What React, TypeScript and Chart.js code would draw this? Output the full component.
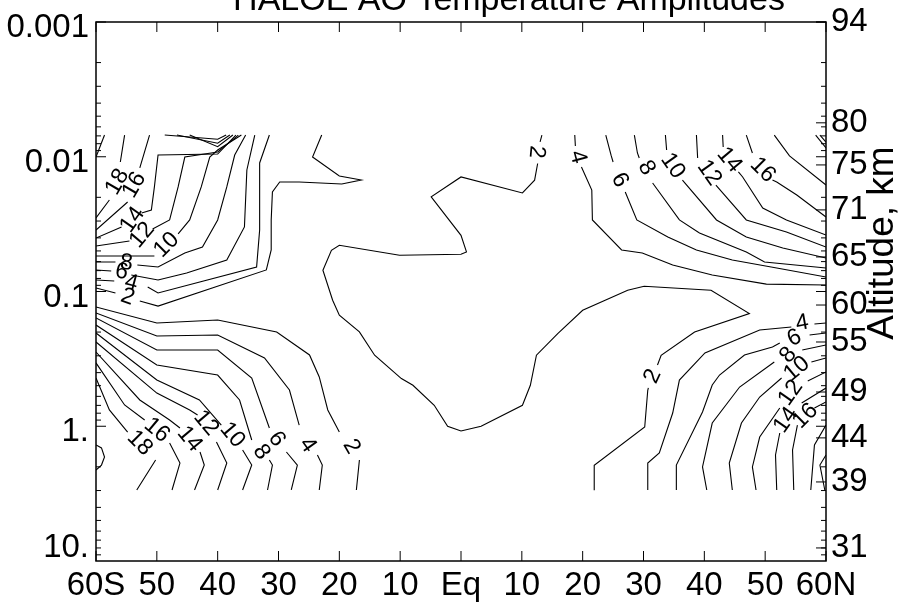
import React, { useEffect, useRef } from 'react';
import { Chart, registerables } from 'chart.js';

Chart.register(...registerables);

// ---------- axes ----------
const latTicks = [-60, -50, -40, -30, -20, -10, 0, 10, 20, 30, 40, 50, 60];
const latLabels = ['60S', '50', '40', '30', '20', '10', 'Eq', '10', '20', '30', '40', '50', '60N'];
const pressureTicks = [0.001, 0.01, 0.1, 1, 10];
const pressureLabels = ['0.001', '0.01', '0.1', '1.', '10.'];
const altitudePressures = [0.001, 0.0056, 0.0115, 0.0248, 0.0554, 0.126, 0.237, 0.557, 1.22, 2.59, 8.0];
const altitudeLabels = ['94', '80', '75', '71', '65', '60', '55', '49', '44', '39', '31'];

type Pt = [number, number] | null; // [latitude, log10(pressure hPa)]

// ---------- contour lines (lat, log10 p) ----------
const amp2Center: Pt[] = [[13.3,-2.161],[13.0,-2.11],null,[12.6,-1.95],[12.1,-1.826],[10.1,-1.731],[0,-1.850],[-4.9,-1.702],[0,-1.417],[0.9,-1.294],[0,-1.276],[-10.1,-1.269],[-20,-1.343],[-21.3,-1.306],[-22.7,-1.158],[-21.1,-0.935],[-20,-0.824],[-16.7,-0.700],[-14.2,-0.527],[-9.8,-0.354],[-7.9,-0.304],[-4.4,-0.156],[-2.2,0],[0,0.035],[3.3,0],[10.1,-0.156],[11.4,-0.304],[12.4,-0.527],[15.9,-0.688],[20,-0.861],[27.4,-1.009],[30.1,-1.039],[41.1,-1.009],[47.4,-0.836],[38.4,-0.700],[32.9,-0.527],[32.3,-0.455],null,[30.8,-0.284],[30.7,-0.267],[30.2,0.005],[21.9,0.289],[21.9,0.475]];

const amp2UpperLeft: Pt[] = [[-60,-1.026],[-56.8,-0.989],null,[-52.8,-0.929],[-49.8,-0.892],[-32.0,-1.160],[-31.2,-1.308],[-31.2,-1.531],[-31.0,-1.739],[-29.8,-1.813],[-26.6,-1.813],[-19.6,-1.798],[-16.4,-1.827],[-20.0,-1.857],[-24.4,-1.998],[-22.9,-2.161]];
const amp4UpperLeft: Pt[] = [[-60,-1.085],[-57.0,-1.078],null,[-51.5,-1.033],[-49.8,-0.989],[-33.6,-1.182],[-33.1,-1.456],[-33.1,-1.954],[-31.5,-2.161]];
const amp6UpperLeft: Pt[] = [[-60,-1.160],[-57.5,-1.152],null,[-54.2,-1.123],[-49.8,-1.085],[-45.1,-1.137],[-38.5,-1.234],[-35.6,-1.479],[-35.2,-1.902],[-34.2,-2.102],[-33.9,-2.161]];
const amp8UpperLeft: Pt[] = [[-60,-1.219],[-56.8,-1.219],null,[-53.2,-1.197],[-49.8,-1.182],[-45.4,-1.286],[-42.5,-1.330],[-40,-1.531],[-38.5,-1.776],[-37.2,-2.013],[-35.4,-2.161]];
const amp10UpperLeft: Pt[] = [[-60,-1.264],[-50.4,-1.264],null,[-46.5,-1.427],[-44.6,-1.531],[-42.7,-1.776],[-41.3,-1.998],[-40,-2.05],[-36.1,-2.161]];
const amp12UpperLeft: Pt[] = [[-60,-1.338],[-54.5,-1.375],null,[-50.7,-1.464],[-47.9,-1.531],[-46.5,-1.776],[-45.4,-1.998],[-40,-2.035],[-36.6,-2.161]];
const amp14UpperLeft: Pt[] = [[-60,-1.397],[-55.8,-1.479],null,[-52.5,-1.583],[-50.9,-1.605],[-50.4,-1.776],[-49.8,-2.013],[-40,-2.02],[-37.0,-2.161]];
const amp16UpperLeft: Pt[] = [[-60,-1.456],[-54.8,-1.664],null,[-52.8,-1.917],[-51.2,-2.161]];
const amp18UpperLeft: Pt[] = [[-60,-1.546],[-57.8,-1.679],null,[-56.0,-1.961],[-55.3,-2.161]];
const amp20UpperLeft: Pt[] = [[-60,-1.998],[-58.6,-2.161]];
const ampTopFanA: Pt[] = [[-48.7,-2.161],[-40,-2.13],[-38.6,-2.161]];
const ampTopFanB: Pt[] = [[-46.7,-2.161],[-40,-2.10],[-38.0,-2.161]];
const ampTopFanC: Pt[] = [[-44.6,-2.161],[-40,-2.075],[-37.5,-2.161]];

const amp2LowerLeft: Pt[] = [[-60,-0.885],[-50,-0.766],[-40,-0.789],[-30.3,-0.699],[-24.9,-0.529],[-23.3,-0.366],[-21.9,-0.121],[-20,0.043],null,[-16.7,0.250],[-17.2,0.473]];
const amp4LowerLeft: Pt[] = [[-60,-0.841],[-50,-0.670],[-40,-0.677],[-32.3,-0.507],[-28.2,-0.269],[-26.6,-0.009],null,[-23.6,0.213],[-22.8,0.288],[-23.3,0.473]];
const amp6LowerLeft: Pt[] = [[-60,-0.804],[-50,-0.566],[-40,-0.566],[-34.4,-0.358],[-31.5,0.013],null,[-28.7,0.191],[-26.9,0.288],[-27.9,0.473]];
const amp8LowerLeft: Pt[] = [[-60,-0.751],[-50,-0.455],[-40,-0.380],[-36.4,-0.195],[-34.4,0.102],null,[-31.5,0.250],[-31.0,0.288],[-31.8,0.473]];
const amp10LowerLeft: Pt[] = [[-60,-0.692],[-50,-0.343],[-43.0,-0.195],[-39.4,-0.009],null,[-35.9,0.176],[-34.4,0.288],[-35.9,0.473]];
const amp12LowerLeft: Pt[] = [[-60,-0.625],[-50,-0.246],[-44.6,-0.121],[-43.3,-0.083],null,[-40.2,0.117],[-38.5,0.273],[-40,0.473]];
const amp14LowerLeft: Pt[] = [[-60,-0.551],[-52.8,-0.195],[-47.9,-0.046],[-46.2,0.013],null,[-42.9,0.191],[-42.2,0.288],[-43.8,0.473]];
const amp16LowerLeft: Pt[] = [[-60,-0.470],[-55.3,-0.158],[-52.0,-0.046],null,[-47.9,0.124],[-46.2,0.273],[-47.5,0.473]];
const amp18LowerLeft: Pt[] = [[-60,-0.358],[-57.8,-0.121],[-54.8,0.043],null,[-50.2,0.250],[-53.3,0.473]];
const amp20LowerLeft: Pt[] = [[-60,0.139],[-59.1,0.161],[-58.6,0.228],[-59.1,0.288],[-60,0.325]];

const amp4UpperRight: Pt[] = [[18.7,-2.161],[18.8,-2.080],null,[19.8,-1.924],[21.5,-1.753],[21.6,-1.531],[26.4,-1.308],[29.8,-1.286],[34.8,-1.197],[41.3,-1.123],[50.2,-1.055],[60,-1.048]];
const amp6UpperRight: Pt[] = [[23.8,-2.161],[24.7,-2.006],[25.0,-1.961],null,[27.0,-1.739],[28.9,-1.531],[34.0,-1.405],[38.7,-1.308],[44.6,-1.234],[51.9,-1.174],[60,-1.108]];
const amp8UpperRight: Pt[] = [[28.5,-2.161],[29.0,-2.028],[29.3,-1.991],null,[31.5,-1.805],[35.9,-1.531],[39.2,-1.434],[46.9,-1.293],[49.9,-1.219],[60,-1.174]];
const amp10UpperRight: Pt[] = [[33.6,-2.161],[33.8,-2.050],null,[36.4,-1.827],[42.0,-1.531],[46.9,-1.405],[52.9,-1.323],[60,-1.249]];
const amp12UpperRight: Pt[] = [[38.7,-2.161],[38.9,-1.991],null,[41.9,-1.790],[46.9,-1.531],[53.5,-1.442],[60,-1.330]];
const amp14UpperRight: Pt[] = [[43.0,-2.161],[43.1,-2.072],null,[45.6,-1.887],[46.3,-1.850],[49.6,-1.620],[53.5,-1.531],[60,-1.419]];
const amp16UpperRight: Pt[] = [[46.9,-2.161],[47.9,-2.028],null,[51.2,-1.827],[51.9,-1.813],[55.2,-1.716],[60,-1.553]];
const amp18UpperRight: Pt[] = [[51.5,-2.161],[54.0,-2.006],[60,-1.790]];
const amp20UpperRight: Pt[] = [[58.3,-2.161],[60,-2.065]];
const amp22UpperRight: Pt[] = [[59.0,-2.161],[60,-2.109]];

const amp4LowerRight: Pt[] = [[60,-0.766],[58.1,-0.759],null,[54.3,-0.737],[49.1,-0.714],[40.1,-0.544],[35.9,-0.343],[34.8,-0.098],[32.6,0.198],[30.7,0.273],[30.7,0.473]];
const amp6LowerRight: Pt[] = [[60,-0.692],[57.3,-0.677],null,[52.4,-0.618],[51.2,-0.588],[46.6,-0.529],[42.5,-0.380],[41.3,-0.306],[39.7,-0.106],[35.4,0.288],[35.4,0.473]];
const amp8LowerRight: Pt[] = [[60,-0.603],[56.1,-0.566],null,[51.5,-0.477],[45.8,-0.291],[41.3,-0.024],[39.7,0.302],[40.4,0.473]];
const amp10LowerRight: Pt[] = [[60,-0.507],[57.6,-0.477],null,[52.7,-0.358],[49.1,-0.217],[46.1,-0.024],[44.1,0.273],[44.6,0.473]];
const amp12LowerRight: Pt[] = [[60,-0.403],[57.0,-0.336],null,[52.4,-0.135],[49.1,0.080],[47.9,0.302],[48.5,0.473]];
const amp14LowerRight: Pt[] = [[60,-0.284],[56.0,-0.173],null,[52.4,0.050],[51.7,0.213],[51.9,0.473]];
const amp16LowerRight: Pt[] = [[60,-0.180],[58.1,-0.135],null,[55.3,-0.009],[54.5,0.176],[54.7,0.473]];
const amp18LowerRight: Pt[] = [[60,-0.009],[58.1,0.139],[57.5,0.473]];
const amp20LowerRight: Pt[] = [[60,0.213],[59.0,0.288],[59.8,0.473]];

const contourLines: Pt[][] = [
  amp2Center,
  amp2UpperLeft, amp4UpperLeft, amp6UpperLeft, amp8UpperLeft, amp10UpperLeft, amp12UpperLeft,
  amp14UpperLeft, amp16UpperLeft, amp18UpperLeft, amp20UpperLeft, ampTopFanA, ampTopFanB, ampTopFanC,
  amp2LowerLeft, amp4LowerLeft, amp6LowerLeft, amp8LowerLeft, amp10LowerLeft, amp12LowerLeft,
  amp14LowerLeft, amp16LowerLeft, amp18LowerLeft, amp20LowerLeft,
  amp4UpperRight, amp6UpperRight, amp8UpperRight, amp10UpperRight, amp12UpperRight, amp14UpperRight,
  amp16UpperRight, amp18UpperRight, amp20UpperRight, amp22UpperRight,
  amp4LowerRight, amp6LowerRight, amp8LowerRight, amp10LowerRight, amp12LowerRight, amp14LowerRight,
  amp16LowerRight, amp18LowerRight, amp20LowerRight,
];

// ---------- contour labels ----------
const labelText = ['2','2', '2','4','6','8','10','12','14','16','18', '2','4','6','8','10','12','14','16','18', '4','6','8','10','12','14','16', '4','6','8','10','12','14','16'];
const labelLat = [12.4,31.5, -54.8,-54.2,-55.8,-55.0,-48.4,-52.4,-54.0,-53.7,-56.5, -18.0,-25.2,-30.3,-32.8,-37.6,-41.9,-44.6,-50.0,-52.8, 19.2,26.1,30.5,34.8,40.8,44.1,49.6, 56.1,54.8,53.8,55.2,54.2,53.4,56.6];
const labelLogP = [-2.036,-0.37, -0.959,-1.063,-1.145,-1.211,-1.345,-1.419,-1.531,-1.790,-1.813, 0.152,0.139,0.095,0.191,0.065,-0.024,0.095,0.028,0.124, -1.998,-1.827,-1.917,-1.932,-1.880,-1.976,-1.902, -0.766,-0.655,-0.529,-0.425,-0.247,-0.046,-0.076];
const labelAngle = [95,-65, 20,15,10,5,-45,-50,-55,-60,-60, 60,55,55,55,50,50,50,40,45, 75,60,60,55,55,50,45, -10,-25,-50,-40,-55,-55,-45];

const FONT = '"Liberation Sans", Arial, Helvetica, sans-serif';

const decorPlugin = {
  id: 'decor',
  afterDatasetsDraw(chart: any) {
    const { ctx, scales } = chart;
    ctx.save();
    ctx.fillStyle = '#000';
    ctx.font = `23px ${FONT}`;
    ctx.textAlign = 'center';
    ctx.textBaseline = 'middle';
    for (let i = 0; i < labelText.length; i++) {
      const px = scales.x.getPixelForValue(labelLat[i]);
      const py = scales.y.getPixelForValue(Math.pow(10, labelLogP[i]));
      ctx.save();
      ctx.translate(px, py);
      ctx.rotate((labelAngle[i] * Math.PI) / 180);
      ctx.fillText(labelText[i], 0, 0);
      ctx.restore();
    }
    ctx.restore();
  },
  afterDraw(chart: any) {
    const { ctx, chartArea: a, scales } = chart;
    const xs = scales.x;
    const ys = scales.y;
    ctx.save();
    ctx.strokeStyle = '#000';
    const seg = (x1: number, y1: number, x2: number, y2: number) => {
      ctx.beginPath();
      ctx.moveTo(x1, y1);
      ctx.lineTo(x2, y2);
      ctx.stroke();
    };
    // frame
    ctx.lineWidth = 1.5;
    ctx.strokeRect(a.left, a.top, a.right - a.left, a.bottom - a.top);
    ctx.lineWidth = 1;
    // x ticks top & bottom (inward)
    for (const v of latTicks) {
      const px = xs.getPixelForValue(v);
      seg(px, a.top, px, a.top + 10);
      seg(px, a.bottom, px, a.bottom - 10);
    }
    // left/right pressure ticks (major + minor)
    for (let d = 0; d < pressureTicks.length - 1; d++) {
      for (let m = 1; m <= 9; m++) {
        const py = ys.getPixelForValue(pressureTicks[d] * m);
        const len = m === 1 ? 10 : 5;
        seg(a.left, py, a.left + len, py);
        seg(a.right, py, a.right - len, py);
      }
    }
    // right altitude ticks
    for (const p of altitudePressures) {
      const py = ys.getPixelForValue(p);
      seg(a.right, py, a.right - 10, py);
    }
    // labels
    ctx.fillStyle = '#000';
    ctx.font = `33px ${FONT}`;
    ctx.textBaseline = 'middle';
    ctx.textAlign = 'center';
    latTicks.forEach((v, i) => {
      ctx.fillText(latLabels[i], xs.getPixelForValue(v), a.bottom + 25);
    });
    ctx.textAlign = 'right';
    pressureTicks.forEach((p, i) => {
      let py = ys.getPixelForValue(p) + 6;
      if (py > a.bottom - 13) py = a.bottom - 13;
      ctx.fillText(pressureLabels[i], a.left - 7, py);
    });
    ctx.textAlign = 'left';
    altitudePressures.forEach((p, i) => {
      const py = ys.getPixelForValue(p);
      ctx.fillText(altitudeLabels[i], a.right + 5, py);
    });
    // right axis title
    ctx.save();
    ctx.font = `37px ${FONT}`;
    ctx.textAlign = 'center';
    ctx.textBaseline = 'alphabetic';
    ctx.translate(a.right + 67, 243);
    ctx.rotate(-Math.PI / 2);
    ctx.fillText('Altitude, km', 0, 0);
    ctx.restore();
    // title (partly above the canvas)
    ctx.font = `34px ${FONT}`;
    ctx.textAlign = 'center';
    ctx.textBaseline = 'alphabetic';
    ctx.fillText('HALOE AO Temperature Amplitudes', 509, 10);
    ctx.restore();
  },
};

export default function App() {
  const ref = useRef<HTMLCanvasElement>(null);
  useEffect(() => {
    document.body.style.margin = '0';
    const canvas = ref.current!;
    const datasets = contourLines.map((line) => ({
      data: line.map((p) => (p ? { x: p[0], y: Math.pow(10, p[1]) } : { x: null, y: null })),
      showLine: true,
      borderColor: '#000',
      borderWidth: 1.1,
      pointRadius: 0,
      spanGaps: false,
      fill: false,
      tension: 0,
    }));
    const chart = new Chart(canvas, {
      type: 'scatter',
      data: { datasets } as any,
      options: {
        responsive: false,
        animation: false,
        devicePixelRatio: 1,
        layout: { padding: { top: 22, left: 0, right: 0, bottom: 0 } },
        plugins: { legend: { display: false }, tooltip: { enabled: false }, title: { display: false } },
        scales: {
          x: {
            type: 'linear', min: -60, max: 60, position: 'bottom',
            grid: { display: false }, border: { display: false }, ticks: { display: false },
            afterFit: (s: any) => { s.height = 46; },
          },
          y: {
            type: 'logarithmic', min: 0.001, max: 10, reverse: true, position: 'left',
            grid: { display: false }, border: { display: false }, ticks: { display: false },
            afterFit: (s: any) => { s.width = 96; },
          },
          y2: {
            type: 'logarithmic', min: 0.001, max: 10, reverse: true, position: 'right',
            grid: { display: false }, border: { display: false }, ticks: { display: false },
            afterFit: (s: any) => { s.width = 86; },
          },
        },
      } as any,
      plugins: [decorPlugin],
    });
    return () => chart.destroy();
  }, []);
  return (
    <div style={{ width: 912, height: 607 }}>
      <canvas ref={ref} width={912} height={607} style={{ display: 'block' }} />
    </div>
  );
}
